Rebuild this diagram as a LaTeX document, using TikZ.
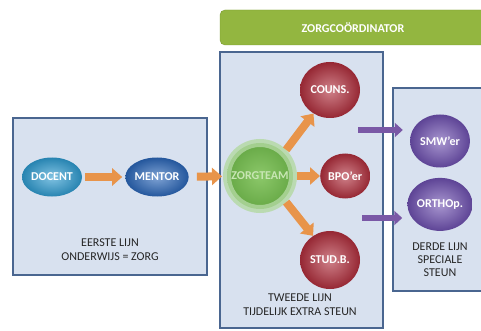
\documentclass[tikz,border=0pt]{standalone}
\usepackage{fontspec}
\setmainfont{Carlito}
\usetikzlibrary{arrows.meta}
\usetikzlibrary{positioning}
\usetikzlibrary{shapes.geometric}

\definecolor{boxfill}{HTML}{D8E1EF}
\definecolor{boxline}{HTML}{4A6690}
\definecolor{barfill}{HTML}{93B640}
\definecolor{barline}{HTML}{7A9A30}
\definecolor{oranje}{HTML}{E8944A}
\definecolor{paars}{HTML}{7A58A6}
\definecolor{tekst}{HTML}{262626}
\definecolor{docentblauw}{HTML}{2E9BD0}
\definecolor{mentorblauw}{HTML}{2A66B8}
\definecolor{rood}{HTML}{B02E3C}
\definecolor{violet}{HTML}{6E50B0}
\definecolor{groen}{HTML}{66A845}
\definecolor{lichtgroen}{HTML}{8CC86A}
\definecolor{gloed}{HTML}{B3D9A2}
\definecolor{teamtekst}{HTML}{C8E6B4}

\begin{document}
\begin{tikzpicture}[x=1pt,y=-1pt,
		lijn/.style={draw=boxline,fill=boxfill,line width=1.1pt},
		label/.style={text=tekst,align=center,font=\fontsize{12}{14}\selectfont},
		bol/.style={ellipse,text=white,font=\bfseries\fontsize{12}{14}\selectfont,inner sep=0pt},
		blauw/.style={bol,inner color=#1!60!white,outer color=#1!85!black},
		oarrow/.style={draw=oranje,line width=8pt,-{Triangle[length=10pt,width=17pt]}},
		parrow/.style={draw=paars,line width=6pt,-{Triangle[length=8pt,width=14pt]}}]
		\path[use as bounding box,clip] (0,0) rectangle (481,331);

		% blokken
		\draw[lijn] (13,118) rectangle (207,275);
		\draw[lijn] (220,52) rectangle (383,328);
		\draw[lijn] (393,88) rectangle (490,291);
		\draw[draw=barline,fill=barfill,rounded corners=5pt] (220,10) rectangle (490,45);
		\node [text=white,font=\bfseries\fontsize{12}{14}\selectfont] (coord) at (353,28) {ZORGCOÖRDINATOR};

		% eerste lijn
		\node [blauw=docentblauw,minimum width=60pt,minimum height=39pt] (docent) at (52,177) {DOCENT};
		\node [blauw=mentorblauw,minimum width=55pt,minimum height=39pt,right=43pt of docent] (mentor) {MENTOR};

		% tweede lijn
		\node [circle,minimum size=66pt,draw=gloed,line width=8pt,draw opacity=0.8,
			inner color=lichtgroen,outer color=groen,text=teamtekst,
			font=\bfseries\fontsize{12}{14}\selectfont,inner sep=0pt] (zorgteam) at (260,176) {ZORGTEAM};
		\node [blauw=rood,minimum width=60pt,minimum height=56pt] (couns) at (330,90) {COUNS.};
		\node [blauw=rood,minimum width=50pt,minimum height=45pt,right=23pt of zorgteam] (bpo) {BPO’er};
		\node [blauw=rood,minimum width=60pt,minimum height=58pt] (stud) at (330,260) {STUD.B.};

		% derde lijn
		\node [blauw=violet,minimum width=60pt,minimum height=53pt] (smw) at (440,141) {SMW’er};
		\node [blauw=violet,minimum width=60pt,minimum height=53pt,below=10pt of smw] (ortho) {ORTHOp.};

		\draw [oarrow,shorten <=3pt,shorten >=3pt] (docent) -- (mentor);
		\draw [oarrow,shorten <=8pt,shorten >=1pt] (mentor) -- (zorgteam);
		\draw [oarrow] (zorgteam.45) -- (couns.235);
		\draw [oarrow] (zorgteam.east) -- (bpo);
		\draw [oarrow] (zorgteam.-45) -- (stud.125);

		\coordinate (p1) at (358,130);
		\coordinate (p2) at (362,218);
		\draw [parrow,shorten >=7pt] (p1) -- (p1 -| smw.west);
		\draw [parrow,shorten >=5pt] (p2) -- (p2 -| ortho.west);

		\node [label] (eerste) at (110,250) {EERSTE LIJN\\ONDERWIJS = ZORG};
		\node [label] (tweede) at (300,305) {TWEEDE LIJN\\TIJDELIJK EXTRA STEUN};
		\node [label,font=\fontsize{12}{13}\selectfont] (derde) at (440,260) {DERDE LIJN\\SPECIALE\\STEUN};
	\end{tikzpicture}
\end{document}
